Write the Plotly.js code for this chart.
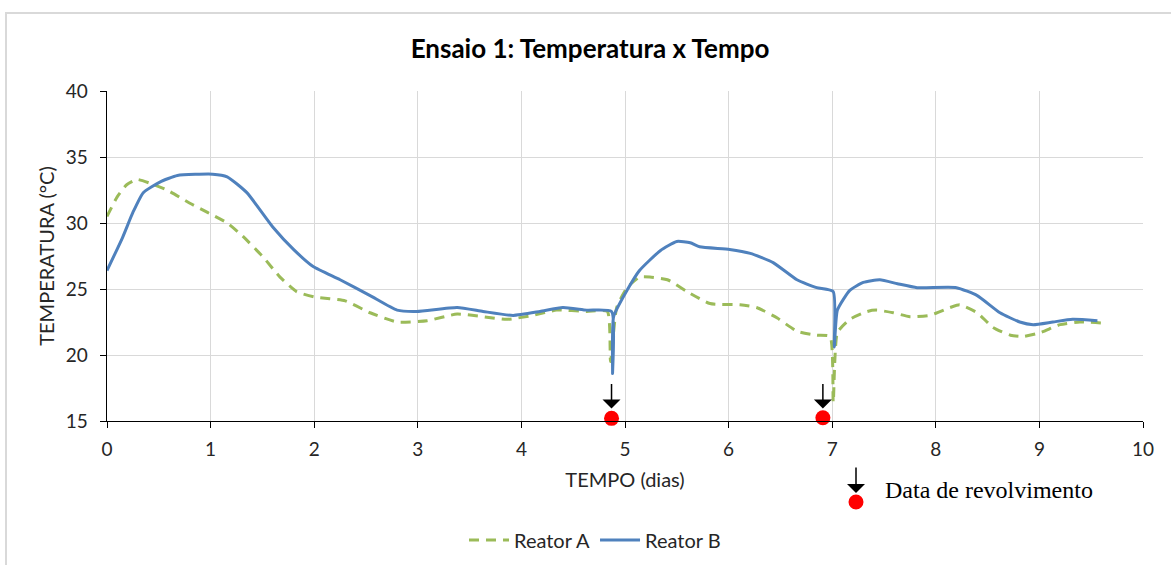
<!DOCTYPE html>
<html>
<head>
<meta charset="utf-8">
<script src="https://cdn.plot.ly/plotly-3.0.1.min.js"></script>
<style>
  html, body { margin: 0; padding: 0; background: #fff; }
  #wrap { position: relative; width: 1171px; height: 565px; overflow: hidden; }
  #chart { position: absolute; left: 0; top: 0; width: 1171px; height: 565px; }
  #frame { position: absolute; left: 5px; top: 12px; width: 1200px; height: 600px;
           border: 2px solid #d9d9d9; pointer-events: none; }
</style>
</head>
<body>
<div id="wrap">
  <div id="chart"></div>
  <div id="frame"></div>
</div>
<script>
// Reator A (green dashed)
const diasA = [0, 0.10, 0.19, 0.29, 0.42, 0.58, 0.80, 0.97, 1.16, 1.31, 1.51, 1.67, 1.83, 2.00, 2.30, 2.54, 2.80,
  3.09, 3.38, 3.63, 3.86, 4.11, 4.34, 4.63, 4.83, 4.86, 4.92, 5.02, 5.14, 5.24, 5.41, 5.60, 5.82, 6.11, 6.27,
  6.47, 6.66, 6.85, 6.98, 7.01, 7.05, 7.17, 7.34, 7.43, 7.59, 7.75, 7.94, 8.14, 8.23, 8.40, 8.55, 8.72, 8.84,
  9.01, 9.20, 9.39, 9.65];
const tempA = [30.5, 32.0, 32.9, 33.3, 33.0, 32.5, 31.5, 30.8, 30.0, 29.0, 27.4, 25.9, 24.8, 24.4, 24.1, 23.2, 22.5,
  22.6, 23.1, 22.9, 22.7, 23.0, 23.4, 23.3, 23.3, 19.5, 23.6, 25.1, 25.9, 25.9, 25.7, 24.8, 23.9, 23.8, 23.6,
  22.8, 21.8, 21.5, 21.4, 16.4, 21.7, 22.7, 23.3, 23.4, 23.2, 22.9, 23.0, 23.6, 23.8, 23.2, 22.1, 21.5, 21.4,
  21.7, 22.3, 22.5, 22.4];

// Reator B (blue solid)
const diasB = [0, 0.15, 0.25, 0.35, 0.51, 0.68, 1.02, 1.16, 1.35, 1.60, 1.80, 1.99, 2.25, 2.54, 2.80, 2.99,
  3.38, 3.63, 3.92, 4.18, 4.40, 4.63, 4.87, 4.88, 4.89, 5.02, 5.14, 5.34, 5.50, 5.63, 5.72, 6.01, 6.21, 6.43,
  6.66, 6.85, 7.01, 7.02, 7.05, 7.17, 7.30, 7.46, 7.63, 7.82, 8.20, 8.40, 8.62, 8.81, 8.94, 9.13, 9.32, 9.56];
const tempB = [26.4, 28.9, 30.8, 32.3, 33.1, 33.6, 33.7, 33.5, 32.3, 29.7, 28.0, 26.7, 25.7, 24.5, 23.4, 23.3,
  23.6, 23.3, 23.0, 23.3, 23.6, 23.4, 23.3, 18.6, 22.9, 24.9, 26.4, 27.9, 28.6, 28.5, 28.2, 28.0, 27.7, 27.0,
  25.7, 25.1, 24.8, 20.6, 23.4, 24.9, 25.5, 25.7, 25.4, 25.1, 25.1, 24.5, 23.2, 22.5, 22.3, 22.5, 22.7, 22.6];

// Datas de revolvimento
const diasRevolv = [4.87, 6.91];
const tempRevolv = [15.2, 15.25];

const xTicks = [0, 1, 2, 3, 4, 5, 6, 7, 8, 9, 10];
const yTicks = [15, 20, 25, 30, 35, 40];

const FONT = 'Lato, "Liberation Sans", sans-serif';
const tickFont = { family: FONT, size: 19, color: '#262626' };

const traces = [
  { x: diasA, y: tempA, name: 'Reator A', mode: 'lines', type: 'scatter',
    line: { color: '#9bbb59', width: 3, dash: '10px,7px', shape: 'spline', smoothing: 0.5 } },
  { x: diasB, y: tempB, name: 'Reator B', mode: 'lines', type: 'scatter',
    line: { color: '#4f81bd', width: 3, shape: 'spline', smoothing: 0.5 } },
  { x: diasRevolv, y: tempRevolv, name: 'Data de revolvimento', mode: 'markers', type: 'scatter',
    showlegend: false, cliponaxis: false, marker: { color: '#ff0000', size: 15 } }
];

const arrowAnn = (x) => ({
  x: x, y: 15.95, xref: 'x', yref: 'y', text: '', showarrow: true,
  ax: 0, ay: -26, arrowhead: 1, arrowsize: 2, arrowwidth: 1.5, arrowcolor: '#000', standoff: 0
});

const layout = {
  width: 1171, height: 565,
  margin: { l: 107, r: 28, t: 91, b: 144, autoexpand: false },
  paper_bgcolor: '#fff', plot_bgcolor: '#fff',
  title: { text: 'Ensaio 1: Temperatura x Tempo', x: 590 / 1171, xref: 'container', xanchor: 'center',
           y: 1 - 49 / 565, yref: 'container', yanchor: 'middle',
           font: { family: FONT, size: 26, color: '#000', weight: 'bold' } },
  xaxis: {
    range: [0, 10], tickvals: xTicks, ticktext: xTicks.map(String),
    showgrid: true, gridcolor: '#d9d9d9', gridwidth: 1,
    showline: true, linecolor: '#000', linewidth: 1.3,
    ticks: 'outside', ticklen: 6, tickcolor: '#000', tickfont: tickFont, zeroline: false,
    ticklabelstandoff: 5,
    title: { text: 'TEMPO (dias)', font: { family: FONT, size: 20, color: '#262626' }, standoff: 14 }
  },
  yaxis: {
    range: [15, 40], tickvals: yTicks, ticktext: yTicks.map(String),
    showgrid: true, gridcolor: '#d9d9d9', gridwidth: 1,
    showline: true, linecolor: '#000', linewidth: 1.3,
    ticks: 'outside', ticklen: 6, tickcolor: '#000', tickfont: tickFont, zeroline: false,
    ticklabelstandoff: 8,
    title: { text: 'TEMPERATURA (°C)', font: { family: FONT, size: 20, color: '#262626' }, standoff: 6 }
  },
  legend: { orientation: 'h', x: (595 - 107) / 1036, xref: 'paper', xanchor: 'center',
            y: (421 - 540) / 330, yref: 'paper', yanchor: 'middle',
            font: { family: FONT, size: 20, color: '#262626' },
            itemwidth: 40, traceorder: 'normal' },
  annotations: [
    arrowAnn(4.87), arrowAnn(6.91),
    { x: (856 - 107) / 1036, y: (421 - 493) / 330, xref: 'paper', yref: 'paper', text: '', showarrow: true,
      ax: 0, ay: -27, arrowhead: 1, arrowsize: 2, arrowwidth: 1.5, arrowcolor: '#000', standoff: 0 },
    { x: (883 - 107) / 1036, y: (421 - 490) / 330, xref: 'paper', yref: 'paper', text: 'Data de revolvimento',
      showarrow: false, xanchor: 'left', yanchor: 'middle',
      font: { family: '"Liberation Serif", "DejaVu Serif", serif', size: 24, color: '#000' } }
  ],
  shapes: [
    { type: 'circle', xref: 'paper', yref: 'paper', xsizemode: 'pixel', ysizemode: 'pixel',
      xanchor: (856 - 107) / 1036, yanchor: (421 - 502) / 330,
      x0: -7.5, x1: 7.5, y0: -7.5, y1: 7.5, fillcolor: '#ff0000', line: { width: 0 } }
  ],
  showlegend: true
};

Plotly.newPlot('chart', traces, layout, { staticPlot: true, displayModeBar: false });
</script>
</body>
</html>
